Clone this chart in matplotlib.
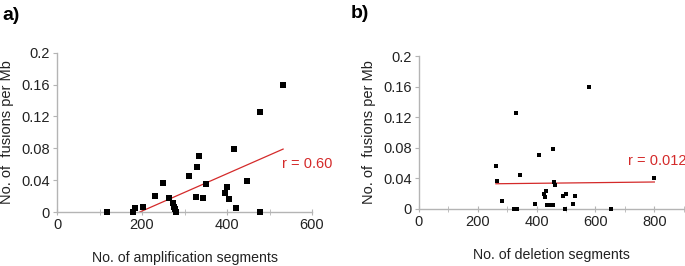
import matplotlib
matplotlib.use("Agg")
import matplotlib.pyplot as plt
from matplotlib.ticker import MultipleLocator

plt.rcParams['font.family'] = ['Liberation Sans', 'DejaVu Sans']

# panel a: amplification segments vs fusions per Mb
amp_x = [117, 178, 183, 203, 230, 250, 263, 272, 275, 278, 281, 310, 328, 330, 333,
         344, 350, 396, 400, 405, 416, 421, 448, 477, 477, 531]
amp_y = [0, 0, 0.0055, 0.006, 0.020, 0.037, 0.018, 0.011, 0.006, 0.0034, 0, 0.045, 0.019,
         0.0565, 0.0707, 0.018, 0.0355, 0.024, 0.031, 0.016, 0.079, 0.005, 0.039, 0.125, 0, 0.160]
amp_fit_x = [195, 532]
amp_fit_y = [0, 0.079]

# panel b: deletion segments vs fusions per Mb
del_x = [261, 267, 282, 325, 335, 331, 343, 394, 407, 424, 429, 433, 437, 446, 455,
         455, 461, 464, 491, 496, 501, 524, 531, 577, 653, 800]
del_y = [0.0566, 0.0366, 0.011, 0, 0, 0.1255, 0.0444, 0.006, 0.070, 0.019, 0.016, 0.024,
         0.005, 0.005, 0.005, 0.079, 0.035, 0.031, 0.0175, 0, 0.0196, 0.006, 0.0175, 0.160, 0, 0.040]
del_fit_x = [262, 800]
del_fit_y = [0.033, 0.0353]

W, H = 685, 266
fig = plt.figure(figsize=(W / 100, H / 100), dpi=100)

axc = '#b4b4b4'
red = '#d42a2a'
txt = '#222222'


def style(ax, xmax, xlab):
    for s in ['top', 'right']:
        ax.spines[s].set_visible(False)
    for s in ['left', 'bottom']:
        ax.spines[s].set_color(axc)
        ax.spines[s].set_linewidth(1.0)
    ax.set_xlim(0, xmax)
    ax.set_ylim(0, 0.2)
    ax.xaxis.set_major_locator(MultipleLocator(200))
    ax.xaxis.set_minor_locator(MultipleLocator(100))
    ax.set_yticks([0, 0.04, 0.08, 0.12, 0.16, 0.2])
    ax.set_yticklabels(['0', '0.04', '0.08', '0.12', '0.16', '0.2'])
    ax.tick_params(axis='x', which='both', direction='inout', length=4, color=axc,
                   labelsize=10.5, labelcolor=txt, pad=2)
    ax.tick_params(axis='y', direction='out', length=3, color=axc,
                   labelsize=10.5, labelcolor=txt, pad=2)
    ax.set_ylabel('No. of  fusions per Mb', fontsize=10.5, color=txt, labelpad=5)
    ax.set_xlabel(xlab, fontsize=10.2, color=txt, labelpad=14)


ax1 = fig.add_axes([57 / W, (H - 212) / H, 255 / W, 159.3 / H])
style(ax1, 600, 'No. of amplification segments')
ax1.plot(amp_fit_x, amp_fit_y, color=red, lw=0.9, zorder=2)
ax1.scatter(amp_x, amp_y, marker='s', s=17, color='black', zorder=3, clip_on=False, linewidths=0)
ax1.text(530, 0.060, 'r = 0.60', color=red, fontsize=10.5, va='center', ha='left')

ax2 = fig.add_axes([418.7 / W, (H - 209) / H, 265.1 / W, 153 / H])
style(ax2, 900, 'No. of deletion segments')
ax2.plot(del_fit_x, del_fit_y, color=red, lw=0.9, zorder=2)
ax2.scatter(del_x, del_y, marker='s', s=11, color='black', zorder=3, clip_on=False, linewidths=0)
ax2.text(710, 0.063, 'r = 0.012', color=red, fontsize=10.5, va='center', ha='left')

fig.text(2 / W, 1 - 15 / H, 'a)', fontsize=14, fontweight='bold', va='center', ha='left')
fig.text(351 / W, 1 - 13 / H, 'b)', fontsize=14, fontweight='bold', va='center', ha='left')

fig.savefig('out.png', dpi=100)
